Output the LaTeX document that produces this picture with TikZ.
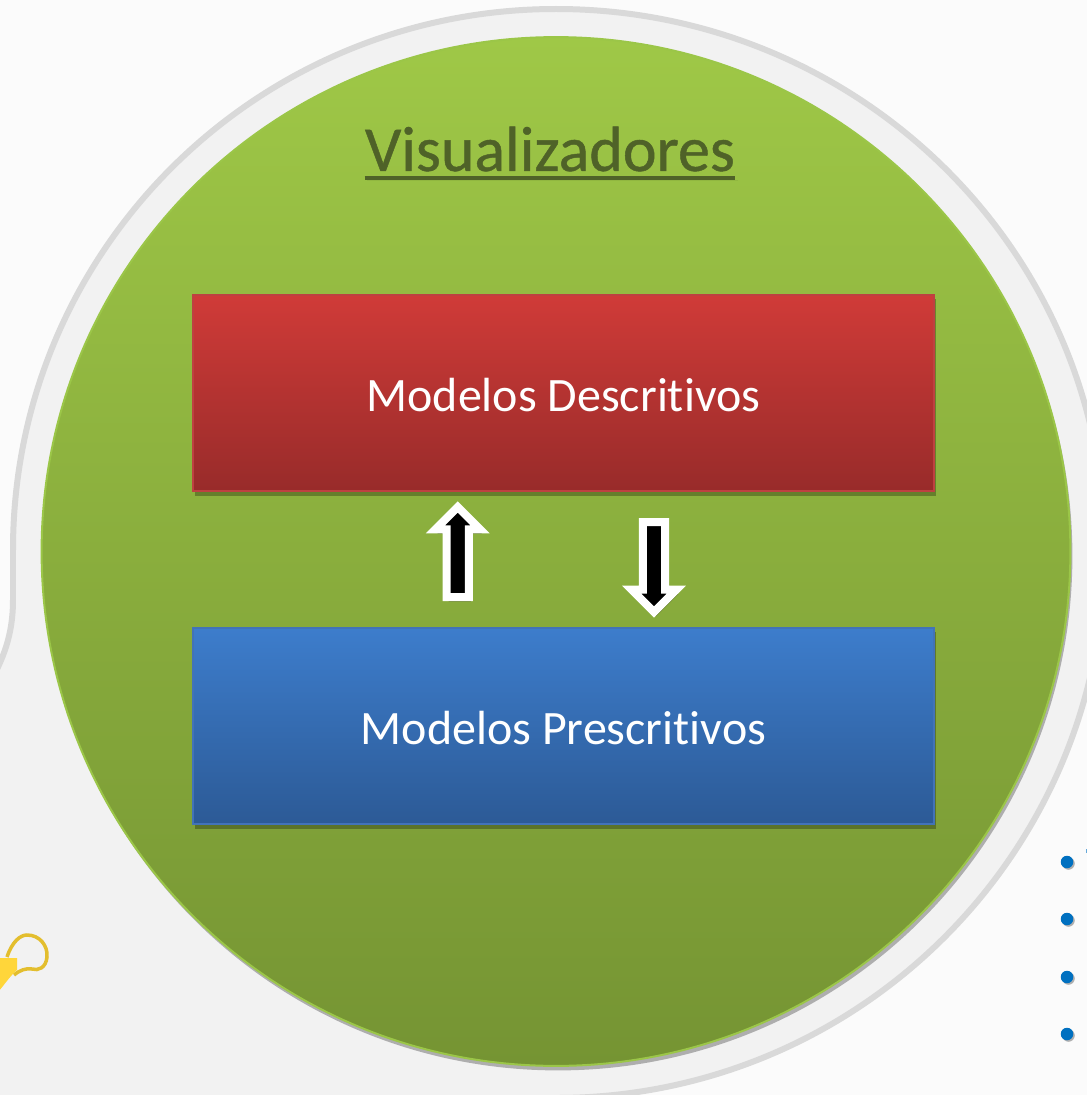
\documentclass[tikz,border=0pt]{standalone}
\usepackage{fontspec}
\setmainfont[Ligatures=NoCommon]{Carlito}
\newfontfamily\titlefont[Ligatures=NoCommon,FakeBold=0.7]{Carlito}
\usetikzlibrary{shadows,shapes.arrows}
\definecolor{pagefill}{HTML}{FBFBFB}
\definecolor{ringfill}{HTML}{F2F2F2}
\definecolor{ringline}{HTML}{D9D9D9}
\definecolor{titletext}{HTML}{4F6228}
\definecolor{dotblue}{HTML}{0070C0}
\definecolor{lampgold}{HTML}{E3BE2E}
\definecolor{lampbody}{HTML}{FFD63A}
\definecolor{discline}{HTML}{9BC648}
\tikzset{
  softshadow/.style={drop shadow={shadow xshift=.04cm,shadow yshift=-.09cm,opacity=.28,fill=black}},
  modelbox/.style={rectangle,minimum width=14.82cm,minimum height=3.94cm,inner sep=0pt,
    line width=.04cm,text=white,text height=.74cm,text depth=0pt,
    font=\fontsize{27.3}{32}\selectfont,softshadow},
  blockarrow/.style={single arrow,single arrow head extend=.08cm,single arrow tip angle=90,
    minimum width=.89cm,minimum height=1.8cm,inner sep=0pt,
    fill=black,draw=white,line width=.16cm,softshadow},
  listdot/.style={circle,minimum size=.25cm,inner sep=0pt,fill=dotblue,
    drop shadow={shadow xshift=.03cm,shadow yshift=-.03cm,opacity=.3,fill=black}}
}
\begin{document}
\begin{tikzpicture}[x=.02cm,y=-.02cm]
  \useasboundingbox (0,0) rectangle (1087,1095);
  \fill[pagefill] (0,0) rectangle (1087,1095);
  % ring behind the disc
  \draw[fill=ringfill,draw=ringline,line width=.12cm]
    (-14,690) .. controls (0,665) and (13,640) .. (13,600) -- (13,550)
    .. controls (13,251) and (256,9) .. (556,9)
    .. controls (859,9) and (1105,251) .. (1105,550)
    .. controls (1105,853) and (859,1098) .. (556,1098)
    -- (300,1115) -- (-30,1120) -- cycle;
  % lamp handle
  \draw[draw=lampgold,line width=.07cm,fill=ringfill]
    (7,957) .. controls (12,942) and (20,935) .. (27,935)
    .. controls (40,935) and (48,946) .. (47,957)
    .. controls (46,968) and (38,971) .. (32,969)
    .. controls (26,968) and (20,970) .. (14,975);
  \fill[lampbody]
    (-2,958) -- (17,958) -- (17,970) .. controls (10,976) and (5,984) .. (-2,992) -- cycle;
  \node[circle,minimum size=20.58cm,inner sep=0pt,line width=.04cm,draw=discline,softshadow,
    top color={rgb,255:red,159;green,200;blue,71},bottom color={rgb,255:red,117;green,148;blue,51}]
    (disc) at (556,551.5) {};
  \node[inner xsep=0pt,inner ysep=.12cm,text=titletext,font=\titlefont\fontsize{36.4}{44}\selectfont]
    (title) at (550,149) {Visualizadores};
  \draw[titletext,line width=.09cm,drop shadow={shadow xshift=.05cm,shadow yshift=-.05cm,opacity=.4,fill=black}]
    (title.south west) -- (title.south east);
  \node[modelbox,draw={rgb,255:red,190;green,65;blue,65},
    top color={rgb,255:red,208;green,59;blue,56},bottom color={rgb,255:red,152;green,43;blue,42}]
    (descritivos) at (563.5,393) {Modelos Descritivos};
  \node[modelbox,draw={rgb,255:red,66;green,115;blue,184},
    top color={rgb,255:red,61;green,125;blue,204},bottom color={rgb,255:red,44;green,90;blue,150}]
    (prescritivos) at (563.5,726) {Modelos Prescritivos};
  \node[blockarrow,shape border rotate=90,anchor=tail] (subir) at (457.7,601) {};
  \node[blockarrow,shape border rotate=270,anchor=tail] (descer) at (654,518) {};
  \node[listdot] (dota) at (1067,862) {};
  \node[listdot] (dotb) at (1067,919) {};
  \node[listdot] (dotc) at (1067,977) {};
  \node[listdot] (dotd) at (1067,1034) {};
  \fill[dotblue!60!white] (1085.5,849) rectangle (1087,853);
\end{tikzpicture}
\end{document}
